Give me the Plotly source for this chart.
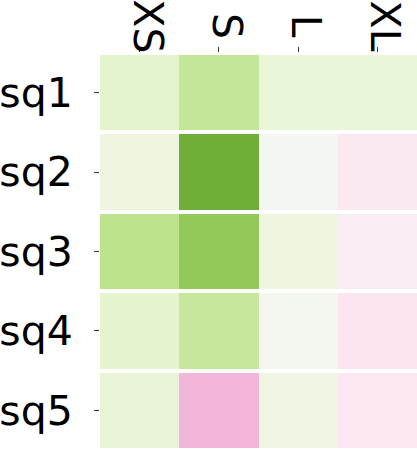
import plotly.graph_objects as go

sizes = ["XS", "S", "L", "XL"]
squares = ["sq1", "sq2", "sq3", "sq4", "sq5"]

# one list per row, columns in the order of `sizes`
sq1 = [0.21, 0.35, 0.15, 0.15]
sq2 = [0.11, 0.66, 0.03, -0.12]
sq3 = [0.38, 0.53, 0.11, -0.08]
sq4 = [0.20, 0.34, 0.04, -0.16]
sq5 = [0.17, -0.40, 0.10, -0.13]

FONT = "DejaVu Sans"


def main():
    z = [sq1, sq2, sq3, sq4, sq5]

    fig = go.Figure()
    fig.add_trace(go.Heatmap(
        z=z, x=sizes, y=squares,
        colorscale="PiYG", zmin=-1, zmax=1,
        showscale=False, ygap=4, hoverongaps=False,
    ))

    # column labels, rotated and centred above the columns
    for s in sizes:
        fig.add_annotation(
            x=s, y=1, xref="x", yref="paper",
            text=s, textangle=90, showarrow=False,
            yanchor="middle", xanchor="center",
            yshift=27, xshift=8,
            font=dict(family=FONT, size=41, color="black"),
        )

    fig.update_xaxes(
        side="top", showgrid=False, zeroline=False, showline=False,
        ticks="outside", ticklen=5, tickcolor="#333", tickwidth=1,
        showticklabels=False, automargin=False,
    )
    fig.update_yaxes(
        autorange="reversed", showgrid=False, zeroline=False, showline=False,
        ticks="outside", ticklen=5, tickcolor="#333", tickwidth=1,
        ticklabelstandoff=13, automargin=False,
        tickfont=dict(family=FONT, size=41, color="black"),
    )
    fig.update_layout(
        width=417, height=450,
        margin=dict(l=100, r=0, t=53, b=0),
        paper_bgcolor="white", plot_bgcolor="white",
    )
    # page body has a default 8px margin; drop it so the figure sits at 0,0
    fig.write_html(
        "out.html",
        config={"displayModeBar": False},
        post_script="document.body.style.margin = '0';",
    )


if __name__ == "__main__":
    main()
